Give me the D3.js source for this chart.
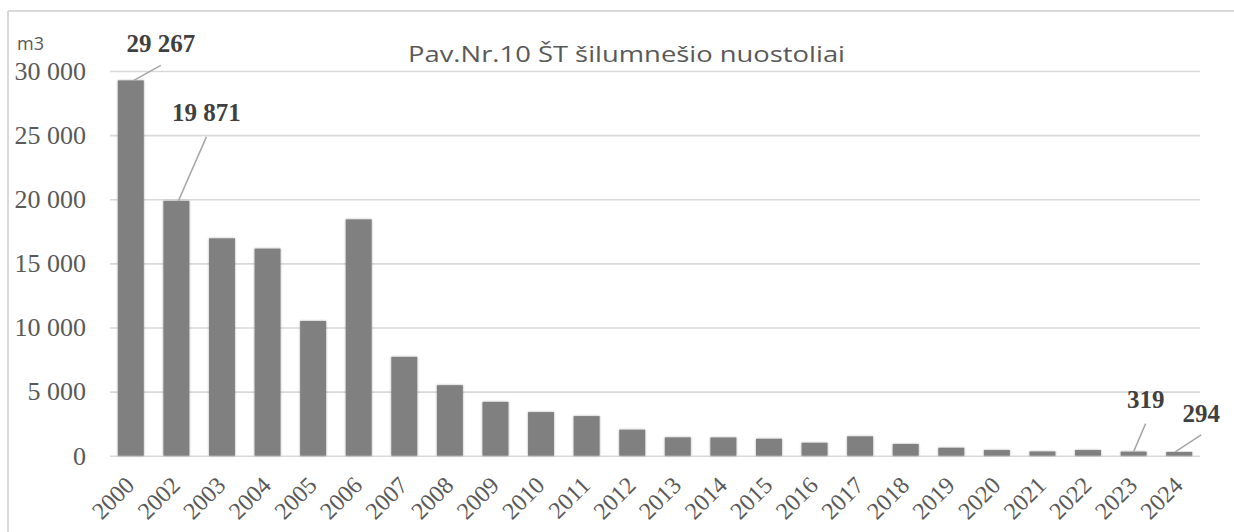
<!DOCTYPE html>
<html>
<head>
<meta charset="utf-8">
<script src="https://cdn.jsdelivr.net/npm/d3@7"></script>
<style>
  body { margin: 0; background: #fff; }
  svg { display: block; }
</style>
</head>
<body>
<script>
//chart data
var years = ["2000", "2002", "2003", "2004", "2005", "2006", "2007", "2008", "2009", "2010", "2011", "2012",
             "2013", "2014", "2015", "2016", "2017", "2018", "2019", "2020", "2021", "2022", "2023", "2024"];
var losses = [29267, 19871, 16950, 16150, 10510, 18430, 7710, 5500, 4200, 3400, 3090, 2030,
              1430, 1420, 1320, 1010, 1510, 910, 620, 440, 330, 440, 319, 294];
var yTicks = [0, 5000, 10000, 15000, 20000, 25000, 30000];
var labelled = ["2000", "2002", "2023", "2024"];

var title = "Pav.Nr.10 ŠT šilumnešio nuostoliai";
var unit = "m3";

//draw chart on load
window.onload = drawChart();

function drawChart(){

    var width = 1234,
        height = 532;

    var svg = d3.select("body")
        .append("svg")
        .attr("width", width)
        .attr("height", height);

    //soft shadow like the office chart
    var defs = svg.append("defs");
    var filter = defs.append("filter")
        .attr("id", "shadow")
        .attr("x", "-20%").attr("y", "-20%")
        .attr("width", "140%").attr("height", "140%");
    filter.append("feGaussianBlur")
        .attr("in", "SourceAlpha")
        .attr("stdDeviation", 1.2)
        .attr("result", "blur");
    filter.append("feComponentTransfer")
        .append("feFuncA").attr("type", "linear").attr("slope", 0.35);
    var merge = filter.append("feMerge");
    merge.append("feMergeNode");
    merge.append("feMergeNode").attr("in", "SourceGraphic");

    //chart frame (left and top edges only visible)
    svg.append("line")
        .attr("x1", 8).attr("x2", 8)
        .attr("y1", 11).attr("y2", height)
        .attr("stroke", "#d9d9d9").attr("stroke-width", 2);
    svg.append("line")
        .attr("x1", 8).attr("x2", width)
        .attr("y1", 11).attr("y2", 11)
        .attr("stroke", "#d9d9d9").attr("stroke-width", 2);

    //scales
    var x = d3.scaleBand()
        .domain(years)
        .range([108, 1202])
        .paddingInner(0.43)
        .paddingOuter(0.215);

    var y = d3.scaleLinear()
        .domain([0, 30000])
        .range([455.7, 71]);

    var fmt = function(v){
        return d3.format(",")(v).replace(/,/g, " ");
    };

    //gridlines
    svg.append("g")
        .attr("class", "grid")
        .attr("transform", "translate(110,0)")
        .call(d3.axisLeft(y).tickValues(yTicks).tickSize(-1090).tickFormat(""))
        .call(function(g){
            g.select(".domain").remove();
            g.selectAll("line").attr("stroke", "#d9d9d9").attr("stroke-width", 1.6);
        });

    //y tick labels
    svg.append("g")
        .attr("transform", "translate(86,0)")
        .call(d3.axisLeft(y).tickValues(yTicks).tickSize(0).tickPadding(0).tickFormat(fmt))
        .call(function(g){
            g.select(".domain").remove();
            g.selectAll("text")
                .attr("fill", "#595959")
                .attr("font-family", "'Liberation Serif', 'Times New Roman', serif")
                .attr("font-size", "26px")
                .attr("dy", "0.32em");
        });

    //bars
    svg.append("g")
        .selectAll("rect")
        .data(years)
        .enter()
        .append("rect")
        .attr("x", function(d){ return x(d); })
        .attr("width", x.bandwidth())
        .attr("y", function(d, i){ return y(losses[i]); })
        .attr("height", function(d, i){ return y(0) - y(losses[i]); })
        .attr("fill", "#808080")
        .attr("filter", "url(#shadow)");

    //x axis labels
    svg.append("g")
        .attr("transform", "translate(0," + y(0) + ")")
        .call(d3.axisBottom(x).tickSize(0).tickPadding(0))
        .call(function(g){
            g.select(".domain").remove();
            g.selectAll("text")
                .attr("fill", "#595959")
                .attr("font-family", "'Liberation Serif', 'Times New Roman', serif")
                .attr("font-size", "24px")
                .attr("text-anchor", "end")
                .attr("dy", null)
                .attr("y", 0)
                .attr("transform", "translate(5,31) rotate(-45)");
        });

    //data labels with leader lines (offsets from bar top centre)
    var labelDx = [30, 30, 12, 22],
        labelDy = [-28, -80, -44, -30],
        lineFrom = [[3, 0], [2, 0], [0, 0], [-4, 0]],
        lineTo = [[30, -15], [30, -64], [12, -28], [22, -17]];

    var lab = svg.append("g");
    labelled.forEach(function(yr, k){
        var i = years.indexOf(yr);
        var cx = x(yr) + x.bandwidth() / 2,
            cy = y(losses[i]);
        lab.append("line")
            .attr("x1", cx + lineFrom[k][0]).attr("y1", cy + lineFrom[k][1])
            .attr("x2", cx + lineTo[k][0]).attr("y2", cy + lineTo[k][1])
            .attr("stroke", "#a6a6a6").attr("stroke-width", 1.5);
        lab.append("text")
            .attr("x", cx + labelDx[k])
            .attr("y", cy + labelDy[k])
            .attr("text-anchor", "middle")
            .attr("fill", "#404040")
            .attr("font-family", "'Liberation Serif', 'Times New Roman', serif")
            .attr("font-weight", "bold")
            .attr("font-size", "25px")
            .text(fmt(losses[i]));
    });

    //title and unit
    svg.append("text")
        .attr("x", 408)
        .attr("y", 62)
        .attr("fill", "#595959")
        .attr("font-family", "'Open Sans', 'Noto Sans', sans-serif")
        .attr("font-size", "22px")
        .attr("textLength", 437)
        .attr("lengthAdjust", "spacingAndGlyphs")
        .text(title);

    svg.append("text")
        .attr("x", 17)
        .attr("y", 50)
        .attr("fill", "#595959")
        .attr("font-family", "'Open Sans', 'Noto Sans', sans-serif")
        .attr("font-size", "18px")
        .text(unit);
};
</script>
</body>
</html>
